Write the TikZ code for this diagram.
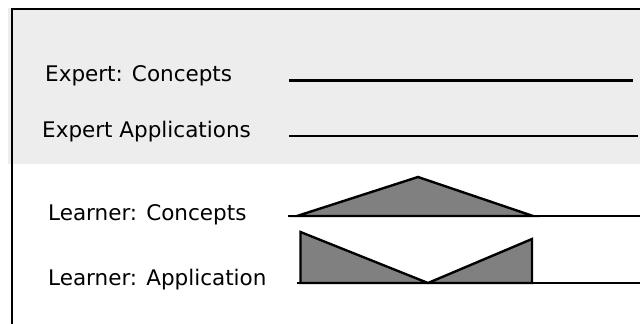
\documentclass[tikz,border=0pt]{standalone}
\usepackage{fontspec}
\setmainfont{DejaVu Sans}
\begin{document}
\begin{tikzpicture}[x=1pt,y=-1pt,
  lbl/.style={anchor=base west,inner sep=0pt,font=\fontsize{21.5}{24}\selectfont},
  trace/.style={line width=2.6pt,line cap=butt},
  area/.style={fill=black!50,draw=black,line width=2.4pt,line join=miter}]
\useasboundingbox (0,0) rectangle (640,324);
\fill[black!7] (8,8) rectangle (640,164);
\draw[line width=2.7pt] (640,9) -- (12,9) -- (12,324);
% labels
\node[lbl] (ec) at (45,81) {Expert: Concepts};
\node[lbl] (ea) at (42,137) {Expert Applications};
\node[lbl] (lc) at (48,220) {Learner: Concepts};
\node[lbl] (la) at (48,285) {Learner: Application};
% expert lines
\coordinate (ec1) at (289,80.5);
\coordinate (ec2) at (633,80.5);
\coordinate (ea1) at (289,136);
\coordinate (ea2) at (638,136);
\draw[trace] (ec1) -- (ec2);
\draw[trace] (ea1) -- (ea2);
% learner concepts
\coordinate (lc0) at (288,216);
\coordinate (lcL) at (297,216);
\coordinate (lcP) at (418,177);
\coordinate (lcR) at (533,216);
\coordinate (lc9) at (640,216);
\draw[area] (lcL) -- (lcP) -- (lcR) -- cycle;
\draw[trace] (lc0) -- (lc9);
% learner application
\coordinate (la0) at (297,283);
\coordinate (laT) at (300.5,232);
\coordinate (laB) at (300.5,283);
\coordinate (laV) at (428,283);
\coordinate (laU) at (532,239);
\coordinate (laD) at (532,283);
\coordinate (la9) at (640,283);
\draw[area] (laB) -- (laT) -- (laV) -- (laU) -- (laD) -- cycle;
\draw[line width=2pt] (la0) -- (la9);
\end{tikzpicture}
\end{document}
